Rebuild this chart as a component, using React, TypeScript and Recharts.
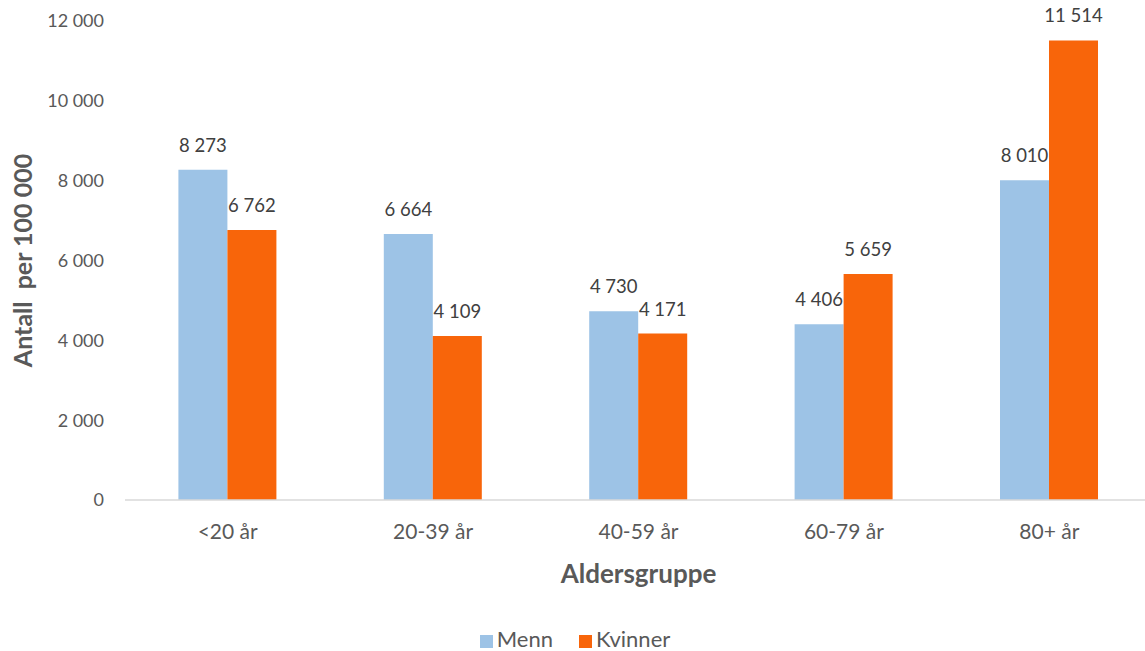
import React from "react";
import { BarChart, Bar, XAxis, YAxis, Legend, LabelList } from "recharts";

const categories = ["<20 år", "20-39 år", "40-59 år", "60-79 år", "80+ år"];
const menn = [8273, 6664, 4730, 4406, 8010];
const kvinner = [6762, 4109, 4171, 5659, 11514];
const yTicks = [0, 2000, 4000, 6000, 8000, 10000, 12000];

const data = categories.map((c, i) => ({ group: c, Menn: menn[i], Kvinner: kvinner[i] }));

const fmt = (v: number) => String(v).replace(/\B(?=(\d{3})+(?!\d))/g, " ");

const FONT = "Lato, 'Open Sans', sans-serif";
const seriesOrder: Record<string, number> = { Menn: 0, Kvinner: 1 };

// plain <text> so the numbers never wrap inside the bar width
const barLabel = (props: any) => {
  const { x, y, width, value } = props;
  return (
    <text x={Number(x) + Number(width) / 2} y={Number(y) - 18} textAnchor="middle"
      fontSize={18.5} fill="#404040" fontFamily={FONT}>
      {fmt(Number(value))}
    </text>
  );
};

export default function App() {
  return (
    <div style={{ position: "absolute", left: 0, top: 0, width: 1145, height: 651, overflow: "hidden", fontFamily: FONT }}>
      <BarChart
        width={1152}
        height={651}
        data={data}
        margin={{ top: 21, right: 0, left: 0, bottom: 0 }}
        barCategoryGap="26%"
        barGap={0}
      >
        <XAxis
          dataKey="group"
          height={127}
          tickLine={false}
          axisLine={{ stroke: "#D9D9D9", strokeWidth: 1.5 }}
          tick={{ fontSize: 21, fill: "#595959", fontFamily: FONT }}
          tickMargin={18}
          label={{
            value: "Aldersgruppe",
            position: "insideBottom",
            offset: 44,
            style: { fontSize: 26, fontWeight: 700, fill: "#595959", fontFamily: FONT },
          }}
        />
        <YAxis
          width={125}
          domain={[0, 12000]}
          ticks={yTicks}
          axisLine={false}
          tickLine={false}
          tickSize={0}
          tickMargin={21}
          tickFormatter={fmt}
          tick={{ fontSize: 18, fill: "#595959", fontFamily: FONT }}
          label={{
            value: "Antall\u00A0\u00A0per 100 000",
            angle: -90,
            position: "insideLeft",
            dx: 18,
            style: { fontSize: 25, fontWeight: 700, fill: "#595959", textAnchor: "middle", fontFamily: FONT },
          }}
        />
        <Legend
          verticalAlign="bottom"
          iconType="square"
          iconSize={13}
          itemSorter={(item: any) => seriesOrder[item.value] ?? 0}
          wrapperStyle={{ fontSize: 22, bottom: 0, left: 12, fontFamily: FONT, lineHeight: "24px" }}
          formatter={(v: string) => <span style={{ color: "#595959", marginRight: 16 }}>{v}</span>}
        />
        <Bar dataKey="Menn" fill="#9DC3E6" isAnimationActive={false}>
          <LabelList dataKey="Menn" content={barLabel} />
        </Bar>
        <Bar dataKey="Kvinner" fill="#F8650A" isAnimationActive={false}>
          <LabelList dataKey="Kvinner" content={barLabel} />
        </Bar>
      </BarChart>
    </div>
  );
}
